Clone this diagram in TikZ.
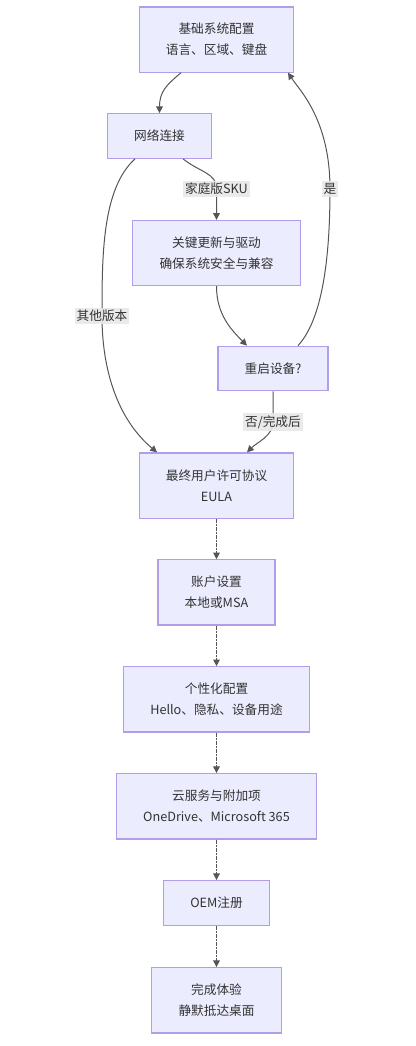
\documentclass[tikz,border=0pt]{standalone}
\usepackage{fontspec}
\setmainfont{Noto Sans CJK SC}
\usetikzlibrary{arrows.meta,positioning,calc}
\definecolor{boxfill}{HTML}{ECECFF}
\definecolor{boxline}{RGB}{178,158,232}
\definecolor{linkgrey}{HTML}{555555}
\definecolor{textgrey}{HTML}{333333}
\definecolor{labelbg}{HTML}{E8E8E8}

\begin{document}
\begin{tikzpicture}[
    x=0.75pt, y=-0.75pt,
    stepbox/.style={rectangle, draw=boxline, line width=0.9pt, fill=boxfill,
        inner xsep=20pt, inner ysep=9pt, minimum height=33.4pt, align=center,
        text=textgrey, font=\fontsize{9.5pt}{15.5pt}\selectfont},
    twoline/.style={minimum height=48.9pt},
    link/.style={-{Triangle[length=5pt,width=5pt]}, line width=0.75pt, linkgrey},
    dotlink/.style={link, dash pattern=on 1.5pt off 0.5pt},
    edgelabel/.style={fill=labelbg, fill opacity=0.9, text opacity=1, text=textgrey,
        inner sep=1.5pt, font=\fontsize{9.5pt}{11pt}\selectfont}
]
    \useasboundingbox (0,0) rectangle (415,1046);

    \node[stepbox, twoline] (base) at (216.5,39.5) {基础系统配置\\语言、区域、键盘};
    \node[stepbox] (net) at (159.5,136) {网络连接};
    \node[stepbox, twoline] (upd) at (216.5,253) {关键更新与驱动\\确保系统安全与兼容};
    \node[stepbox] (reboot) at (273,368.5) {重启设备?};
    \node[stepbox, twoline] (eula) at (216.5,485.5) {最终用户许可协议\\EULA};
    \node[stepbox, twoline, below=30.4pt of eula] (acct) {账户设置\\本地或MSA};
    \node[stepbox, twoline, below=30.4pt of acct] (pers) {个性化配置\\Hello、隐私、设备用途};
    \node[stepbox, twoline, below=30.4pt of pers] (cloud) {云服务与附加项\\OneDrive、Microsoft 365};
    \node[stepbox, below=30.4pt of cloud] (oem) {OEM注册};
    \node[stepbox, twoline, below=31pt of oem] (done) {完成体验\\静默抵达桌面};

    % turning points that carry the labels
    \coordinate (skumid) at (216.5,189);
    \coordinate (othermid) at (102,316);
    \coordinate (yesmid) at (330,189);
    \coordinate (nomid) at (273,422);

    \draw[link] ($(base.south)+(-35.5,0)$) .. controls +(-14,12) and +(0,-22) .. (net.north);
    \draw[link] ($(net.south)+(23.5,0)$) .. controls +(18,14) and +(0,-16) .. (skumid) -- (upd.north);
    \draw[link] ($(net.south)+(-24.5,0)$) .. controls +(-33,30) and +(0,-60) .. (othermid)
        .. controls +(0,60) and +(-36,-30) .. ($(eula.north)+(-59.5,0)$);
    \draw[link] (upd.south) .. controls +(0,28) and +(-16,-16) .. ($(reboot.north)+(-26,0)$);
    \draw[link] ($(reboot.north)+(25,0)$) .. controls +(24,-26) and +(0,71) .. (yesmid)
        .. controls +(0,-69) and +(12,18) .. ($(base.south)+(71.5,0)$);
    \draw[link] (reboot.south) -- (nomid) .. controls +(0,14) and +(10,-10) .. ($(eula.north)+(30.5,0)$);

    \draw[dotlink] (eula) -- (acct);
    \draw[dotlink] (acct) -- (pers);
    \draw[dotlink] (pers) -- (cloud);
    \draw[dotlink] (cloud) -- (oem);
    \draw[dotlink] (oem) -- (done);

    \node[edgelabel] at (skumid) {家庭版SKU};
    \node[edgelabel] at (othermid) {其他版本};
    \node[edgelabel] at (yesmid) {是};
    \node[edgelabel] at (nomid) {否/完成后};
\end{tikzpicture}
\end{document}
